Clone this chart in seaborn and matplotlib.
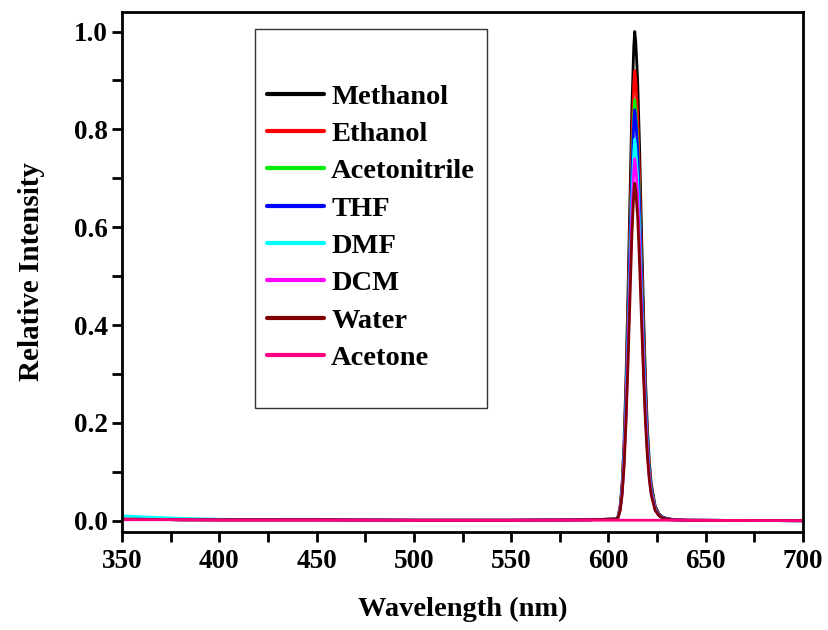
import numpy as np
import pandas as pd
import matplotlib
matplotlib.use("Agg")
import matplotlib.pyplot as plt
import seaborn as sns
from matplotlib.patches import Rectangle
from matplotlib.ticker import MultipleLocator

# wavelength grid (nm)
wavelength = [350, 360, 380, 400, 450, 500, 550, 590, 600,
              604, 605, 606, 607, 608, 609, 610, 611, 612, 613, 613.5, 614, 615, 616, 617,
              618, 619, 620, 621, 622, 624, 626, 628, 632, 640, 700]

methanol = [0.003, 0.003, 0.002, 0.002, 0.002, 0.001, 0.001, 0.002, 0.003,
            0.004, 0.010, 0.030, 0.075, 0.160, 0.290, 0.460, 0.650, 0.840, 0.970, 1.000, 0.980, 0.900, 0.760, 0.590,
            0.430, 0.290, 0.190, 0.120, 0.075, 0.030, 0.014, 0.007, 0.003, 0.001, 0.000]
ethanol = [0.003, 0.003, 0.002, 0.002, 0.002, 0.001, 0.001, 0.002, 0.003,
           0.004, 0.009, 0.028, 0.069, 0.147, 0.267, 0.423, 0.598, 0.773, 0.892, 0.920, 0.902, 0.828, 0.699, 0.543,
           0.396, 0.267, 0.175, 0.110, 0.069, 0.028, 0.013, 0.006, 0.003, 0.001, 0.000]
acetonitrile = [0.003, 0.003, 0.002, 0.002, 0.002, 0.001, 0.001, 0.002, 0.003,
                0.003, 0.009, 0.026, 0.065, 0.138, 0.249, 0.396, 0.559, 0.722, 0.834, 0.860, 0.843, 0.774, 0.654, 0.507,
                0.370, 0.249, 0.163, 0.103, 0.065, 0.026, 0.012, 0.006, 0.003, 0.001, 0.000]
thf = [0.003, 0.003, 0.002, 0.002, 0.002, 0.001, 0.001, 0.002, 0.003,
       0.003, 0.008, 0.025, 0.063, 0.134, 0.244, 0.386, 0.546, 0.706, 0.815, 0.840, 0.823, 0.756, 0.638, 0.496,
       0.361, 0.244, 0.160, 0.101, 0.063, 0.025, 0.012, 0.006, 0.003, 0.001, 0.000]
dmf = [0.010, 0.008, 0.005, 0.003, 0.002, 0.001, 0.001, 0.002, 0.003,
       0.003, 0.008, 0.023, 0.059, 0.125, 0.226, 0.359, 0.507, 0.655, 0.757, 0.780, 0.764, 0.702, 0.593, 0.460,
       0.335, 0.226, 0.148, 0.094, 0.059, 0.023, 0.011, 0.005, 0.002, 0.001, 0.000]
dcm = [0.003, 0.003, 0.002, 0.002, 0.002, 0.001, 0.001, 0.002, 0.003,
       0.003, 0.007, 0.022, 0.056, 0.118, 0.215, 0.340, 0.481, 0.622, 0.718, 0.740, 0.725, 0.666, 0.562, 0.437,
       0.318, 0.215, 0.141, 0.089, 0.056, 0.022, 0.010, 0.005, 0.002, 0.001, 0.000]
water = [0.003, 0.003, 0.002, 0.002, 0.002, 0.001, 0.001, 0.002, 0.003,
         0.003, 0.007, 0.021, 0.052, 0.110, 0.200, 0.317, 0.449, 0.580, 0.669, 0.690, 0.676, 0.621, 0.524, 0.407,
         0.297, 0.200, 0.131, 0.083, 0.052, 0.021, 0.010, 0.005, 0.002, 0.001, 0.000]
acetone = [0.002, 0.002, 0.002, 0.001, 0.001, 0.001, 0.001, 0.001, 0.001,
           0.001, 0.001, 0.001, 0.001, 0.001, 0.001, 0.001, 0.001, 0.001, 0.001, 0.001, 0.001, 0.001, 0.001, 0.001,
           0.001, 0.001, 0.001, 0.001, 0.001, 0.001, 0.001, 0.001, 0.001, 0.001, 0.000]

solvents = ["Methanol", "Ethanol", "Acetonitrile", "THF", "DMF", "DCM", "Water", "Acetone"]
colors = ["#000000", "#ff0000", "#00ee00", "#0000ff", "#00ffff", "#ff00ff", "#800000", "#ff0080"]
series = [methanol, ethanol, acetonitrile, thf, dmf, dcm, water, acetone]

df = pd.concat([pd.DataFrame({"Wavelength": wavelength, "Intensity": s, "Solvent": name})
                for name, s in zip(solvents, series)], ignore_index=True)

sns.set_style("ticks")
plt.rcParams["font.family"] = ["Liberation Serif", "DejaVu Serif"]
plt.rcParams["font.weight"] = "bold"
for key in ["text.color", "axes.labelcolor", "xtick.color", "ytick.color", "axes.edgecolor"]:
    plt.rcParams[key] = "black"

fig = plt.figure(figsize=(8.29, 6.3), dpi=100)
ax = fig.add_axes([0.1472, 0.1556, 0.8215, 0.8254])

sns.lineplot(data=df, x="Wavelength", y="Intensity", hue="Solvent", hue_order=solvents,
             palette=colors, sort=False, linewidth=2, legend=False, ax=ax)

ax.xaxis.set_major_locator(MultipleLocator(50))
ax.xaxis.set_minor_locator(MultipleLocator(25))
ax.yaxis.set_major_locator(MultipleLocator(0.2))
ax.yaxis.set_minor_locator(MultipleLocator(0.1))
ax.set_xlim(350, 700)
ax.set_ylim(-0.023, 1.040)
ax.set_yticks([0.0, 0.2, 0.4, 0.6, 0.8, 1.0])
ax.set_yticklabels(["0.0", "0.2", "0.4", "0.6", "0.8", "1.0"], fontweight="bold")
ax.set_xticks([350, 400, 450, 500, 550, 600, 650, 700])
ax.set_xticklabels(["350", "400", "450", "500", "550", "600", "650", "700"], fontweight="bold")
ax.tick_params(which="both", direction="out", length=7, width=2, labelsize=19.5)
ax.tick_params(axis="x", pad=5)
ax.tick_params(axis="y", pad=3)
for sp in ax.spines.values():
    sp.set_linewidth(2)

ax.set_xlabel("Wavelength (nm)", fontsize=20.5, fontweight="bold", labelpad=17)
ax.set_ylabel("Relative Intensity", fontsize=21, fontweight="bold", labelpad=21)

# legend box
ax.add_patch(Rectangle((0.195, 0.239), 0.341, 0.728, transform=ax.transAxes,
                       fill=False, edgecolor="#333333", linewidth=1, zorder=5))
handles = [plt.Line2D([], [], color=c, linewidth=3) for c in colors]
leg = ax.legend(handles, solvents, loc="upper left", bbox_to_anchor=(0.213, 0.862),
                frameon=False, fontsize=20.5, handlelength=2.0, handletextpad=0.25,
                labelspacing=0.4, borderaxespad=0, borderpad=0)
for t in leg.get_texts():
    t.set_fontweight("bold")

fig.savefig("out.png", dpi=100)
